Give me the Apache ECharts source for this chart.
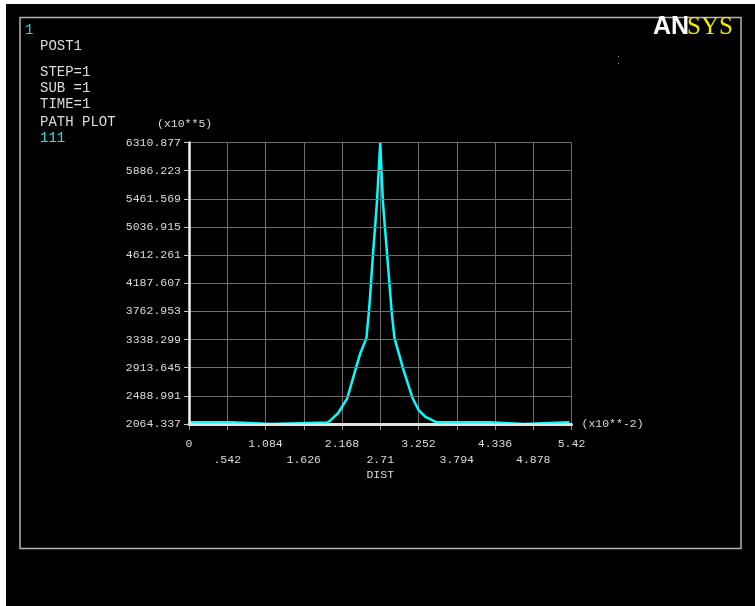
<!DOCTYPE html>
<html>
<head>
<meta charset="utf-8">
<title>PATH PLOT</title>
<script src="https://cdn.jsdelivr.net/npm/echarts@6/dist/echarts.min.js"></script>
<style>
  html, body { margin: 0; padding: 0; background: #ffffff; }
  #chart { width: 755px; height: 606px; }
</style>
</head>
<body>
<div id="chart"></div>
<script>
// Path distance (x10**-2) and result value (x10**5) along path "111"
var distX = [0, 0.61, 0.62, 1.16, 1.17, 1.96, 2.00, 2.115, 2.243, 2.357, 2.428, 2.514, 2.556, 2.606, 2.663, 2.71,
             2.748, 2.808, 2.876, 2.912, 3.04, 3.168, 3.253, 3.353, 3.495, 3.6, 4.27, 4.28, 4.74, 4.75, 5.39];
var pathVal = [2092, 2092, 2064.337, 2064.337, 2092, 2088, 2114, 2230, 2456, 2877, 3133, 3360, 3841, 4609, 5408, 6310.877,
               5408, 4609, 3706, 3360, 2877, 2456, 2275, 2170, 2096, 2092, 2092, 2064.337, 2064.337, 2092, 2092];

// Axis tick values
var xTicks = [0, 0.542, 1.084, 1.626, 2.168, 2.71, 3.252, 3.794, 4.336, 4.878, 5.42];
var yTicks = [2064.337, 2488.991, 2913.645, 3338.299, 3762.953, 4187.607, 4612.261, 5036.915, 5461.569, 5886.223, 6310.877];

// Header text lines
var headerLines = ['POST1', 'STEP=1', 'SUB =1', 'TIME=1', 'PATH PLOT'];
var headerY = [46.5, 72, 88.5, 104.5, 122];

var MONO = '"Liberation Mono", "DejaVu Sans Mono", monospace';
var TXT = '#dcdcdc';
var yBase = yTicks[0];
var yStep = yTicks[1] - yTicks[0];
var yRange = yTicks[yTicks.length - 1] - yBase;

function fmtX(v) {
  var s = String(+(+v).toFixed(3));
  if (s.indexOf('0.') === 0) s = s.slice(1);
  return s;
}

var seriesData = distX.map(function (x, i) { return [x, pathVal[i] - yBase]; });

var graphics = [
  { type: 'rect', z: -10, shape: { x: 6, y: 4, width: 749, height: 602 }, style: { fill: '#000000' } },
  { type: 'rect', z: -9, shape: { x: 20, y: 17.5, width: 721, height: 531 }, style: { fill: null, stroke: '#b4b4b4', lineWidth: 1.5 } },
  { type: 'text', left: 25, top: 23, style: { text: '1', fill: '#2fd3d3', font: '14px ' + MONO } },
  { type: 'text', left: 40, top: 131, style: { text: '111', fill: '#33e0e0', font: '14px ' + MONO } },
  { type: 'text', left: 157, top: 118, style: { text: '(x10**5)', fill: TXT, font: '11.5px ' + MONO } },
  { type: 'text', left: 653, top: 15, style: { text: 'AN', fill: '#ffffff', font: 'bold 25px "Liberation Sans", "DejaVu Sans", sans-serif' } },
  { type: 'text', left: 687, top: 15, style: { text: 'SYS', fill: '#f2e600', font: '25px "Liberation Serif", "DejaVu Serif", serif' } },
  { type: 'rect', shape: { x: 618, y: 56, width: 1, height: 1 }, style: { fill: '#9a9a9a' } },
  { type: 'rect', shape: { x: 618, y: 63, width: 1, height: 1 }, style: { fill: '#9a9a9a' } }
];
headerLines.forEach(function (t, i) {
  graphics.push({ type: 'text', left: 40, top: headerY[i] - 7, style: { text: t, fill: TXT, font: '14px ' + MONO } });
});

var chart = echarts.init(document.getElementById('chart'), null, { renderer: 'canvas' });
chart.setOption({
  backgroundColor: 'transparent',
  animation: false,
  graphic: graphics,
  grid: { left: 189, top: 142.5, right: 183.5, bottom: 182, containLabel: false },
  xAxis: [
    {
      type: 'value',
      min: xTicks[0],
      max: xTicks[xTicks.length - 1],
      interval: xTicks[1] - xTicks[0],
      position: 'bottom',
      name: '(x10**-2)',
      nameLocation: 'end',
      nameGap: 10,
      nameTextStyle: { color: TXT, fontFamily: MONO, fontSize: 11.5 },
      axisLine: { show: false },
      axisTick: { show: true, length: 6, lineStyle: { color: '#8c8c8c', width: 1 } },
      splitLine: { show: true, lineStyle: { color: '#6e6e6e', width: 1 } },
      axisLabel: {
        show: true, interval: 0, margin: 12, color: TXT, fontFamily: MONO, fontSize: 11.5, lineHeight: 16,
        showMinLabel: true, showMaxLabel: true,
        formatter: function (v, i) {
          var s = fmtX(v);
          return (i % 2 === 1) ? '\n' + s : s;
        }
      }
    },
    {
      type: 'value',
      min: xTicks[0],
      max: xTicks[xTicks.length - 1],
      position: 'bottom',
      z: 10,
      name: 'DIST',
      nameLocation: 'middle',
      nameGap: 45,
      nameTextStyle: { color: TXT, fontFamily: MONO, fontSize: 11.5 },
      axisLine: { show: true, lineStyle: { color: '#e2e2e2', width: 3 } },
      axisTick: { show: false },
      axisLabel: { show: false },
      splitLine: { show: false }
    }
  ],
  yAxis: {
    type: 'value',
    min: 0,
    max: yRange,
    interval: yStep,
    z: 10,
    axisLine: { show: true, lineStyle: { color: '#f2f2f2', width: 2.5 } },
    axisTick: { show: true, length: 5, lineStyle: { color: '#c8c8c8', width: 1 } },
    splitLine: { show: true, lineStyle: { color: '#6e6e6e', width: 1 } },
    axisLabel: {
      show: true, margin: 8, color: TXT, fontFamily: MONO, fontSize: 11.5,
      showMinLabel: true, showMaxLabel: true,
      formatter: function (v) { return (v + yBase).toFixed(3); }
    }
  },
  series: [
    {
      type: 'line',
      xAxisIndex: 0,
      yAxisIndex: 0,
      data: seriesData,
      showSymbol: false,
      symbol: 'none',
      clip: false,
      lineStyle: { color: '#00ffff', width: 2.5 },
      z: 2
    }
  ]
});
</script>
</body>
</html>
